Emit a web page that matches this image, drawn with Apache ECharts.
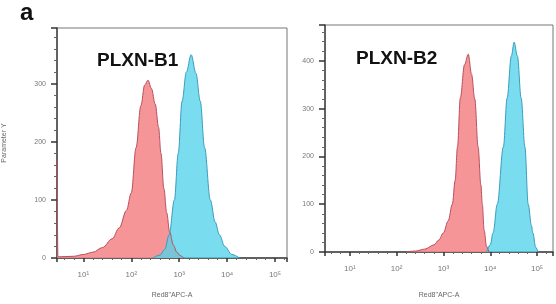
<!DOCTYPE html>
<html><head><meta charset="utf-8">
<script src="https://cdn.jsdelivr.net/npm/echarts@6/dist/echarts.min.js"></script>
<style>html,body{margin:0;padding:0;background:#fff}#c{width:556px;height:304px}</style>
</head><body><div id="c"></div>
<script>
// x positions in log10 decades, counts on y
const b1RedX   = [0.45,0.47,0.8,1.0,1.2,1.4,1.6,1.75,1.9,2.0,2.1,2.2,2.28,2.35,2.42,2.5,2.57,2.62,2.68,2.74,2.8,2.88,2.95,3.02,3.1];
const b1RedY   = [170,2,3,6,10,18,33,52,82,112,190,262,298,306,292,265,225,180,120,78,45,22,10,4,0];
const b1CyanX  = [2.45,2.6,2.7,2.79,2.9,2.98,3.06,3.15,3.25,3.35,3.44,3.53,3.65,3.75,3.84,3.95,4.1,4.26];
const b1CyanY  = [0,5,15,40,100,180,270,320,350,318,270,190,100,62,40,20,6,0];
const b2RedX   = [2.2,2.4,2.6,2.8,2.9,3.0,3.1,3.19,3.25,3.3,3.36,3.45,3.53,3.6,3.67,3.74,3.8,3.83,3.87,3.92,3.97];
const b2RedY   = [0,2,6,15,25,40,65,100,150,220,322,392,414,372,320,220,140,100,45,12,0];
const b2CyanX  = [3.92,4.0,4.06,4.15,4.28,4.36,4.45,4.51,4.58,4.66,4.74,4.81,4.88,4.91,4.97,5.02];
const b2CyanY  = [0,15,40,100,220,322,410,439,410,322,220,100,55,40,10,0];
const yTicksLeft = [0,100,200,300];
const yTicksRight = [0,100,200,300,400];
const panelTitles = ['PLXN-B1','PLXN-B2'];
const xName = 'Red8"APC-A';
const yName = 'Parameter Y';

const sup = {0:'⁰',1:'¹',2:'²',3:'³',4:'⁴',5:'⁵'};
const zip = (xs, ys) => xs.map((x,i)=>[x, ys[i]]);

const grids = [
  {left:57, top:28, width:230, height:232},
  {left:325, top:25, width:228, height:233}
];
grids.forEach(g => { g.show = true; g.borderColor = '#777'; g.borderWidth = 1; g.backgroundColor='transparent'; });

function xAxis(i, min, max, gap){
  return {
    type:'value', gridIndex:i, min:min, max:max, splitNumber:5,
    name:xName, nameLocation:'middle', nameGap:gap,
    nameTextStyle:{color:'#666', fontSize:7, fontFamily:'Liberation Sans'},
    axisLine:{show:true, lineStyle:{color:'#444', width:1.5}},
    axisTick:{show:true, inside:false, length:4, lineStyle:{color:'#333', width:1.5}},
    minorTick:{show:true, splitNumber:5, length:2, lineStyle:{color:'#666'}},
    splitLine:{show:false},
    axisLabel:{color:'#777', fontSize:8, margin:13, showMinLabel:false, showMaxLabel:false,
      fontFamily:'Liberation Sans',
      formatter: v => Number.isInteger(v) ? '10' + (sup[v]||'') : ''}
  };
}
function yAxis(i, max, withName){
  return {
    type:'value', gridIndex:i, min:0, max:max, interval:100,
    name: withName ? yName : '', nameLocation:'middle', nameGap:49, nameRotate:90,
    nameTextStyle:{color:'#666', fontSize:7, fontFamily:'Liberation Sans'},
    axisLine:{show:true, lineStyle:{color:'#444', width:1.5}},
    axisTick:{show:true, length:6, lineStyle:{color:'#333', width:1.5}},
    minorTick:{show:true, splitNumber:5, length:3, lineStyle:{color:'#666'}},
    splitLine:{show:false},
    axisLabel:{color:'#777', fontSize:7, margin:11, showMaxLabel:false, fontFamily:'Liberation Sans'}
  };
}
function hist(i, data, fill, edge, op){
  return {
    type:'line', xAxisIndex:i, yAxisIndex:i, data:data, smooth:0.35, smoothMonotone:'x',
    showSymbol:false, symbol:'none',
    lineStyle:{color:edge, width:1},
    areaStyle:{color:fill, opacity:op}
  };
}

const chart = echarts.init(document.getElementById('c'), null, {renderer:'canvas'});
chart.setOption({
  animation:false,
  backgroundColor:'#fff',
  grid: grids,
  xAxis:[xAxis(0,0.45,5.25,34), xAxis(1,0.47,5.34,40)],
  yAxis:[yAxis(0,396,true), yAxis(1,475,false)],
  title:[
    {text:'a', left:15, top:-4, textStyle:{fontSize:24, fontWeight:'bold', color:'#111', fontFamily:'Liberation Sans'}},
    {text:panelTitles[0], left:92, top:46, textStyle:{fontSize:19, fontWeight:'bold', color:'#111', fontFamily:'Liberation Sans'}},
    {text:panelTitles[1], left:351, top:44, textStyle:{fontSize:19, fontWeight:'bold', color:'#111', fontFamily:'Liberation Sans'}}
  ],
  series:[
    hist(0, zip(b1RedX,b1RedY), '#f48a8c', '#b8505e', 0.9),
    hist(0, zip(b1CyanX,b1CyanY), '#55d2ea', '#3a9cbc', 0.78),
    hist(1, zip(b2RedX,b2RedY), '#f48a8c', '#b8505e', 0.9),
    hist(1, zip(b2CyanX,b2CyanY), '#55d2ea', '#3a9cbc', 0.78)
  ]
});
</script></body></html>
